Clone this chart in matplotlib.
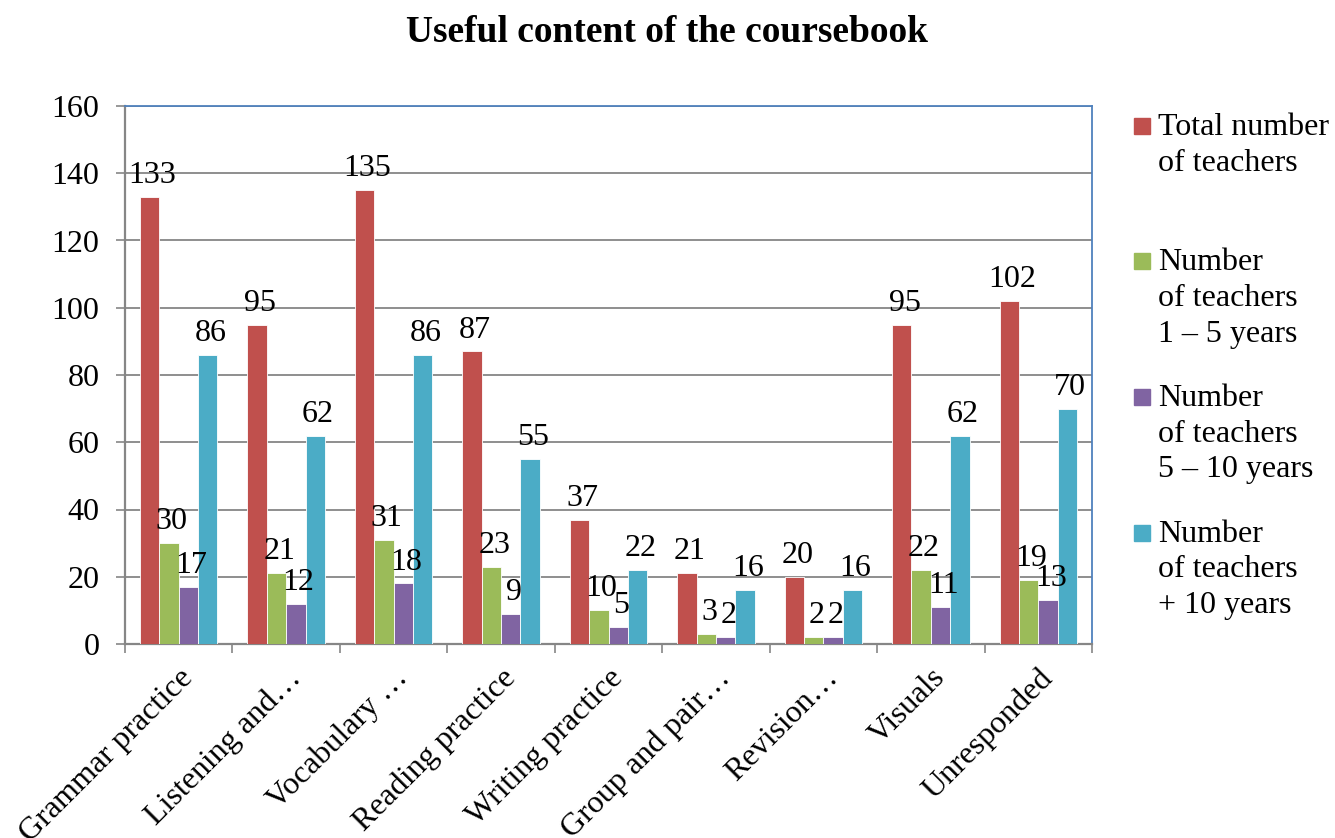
import numpy as np
import matplotlib
matplotlib.use("Agg")
import matplotlib.pyplot as plt
from matplotlib.patches import Rectangle

plt.rcParams['font.family'] = ['Liberation Serif', 'DejaVu Serif']

categories = ["Grammar practice", "Listening and…", "Vocabulary …", "Reading practice",
              "Writing practice", "Group and pair…", "Revision…", "Visuals", "Unresponded"]
total = [133, 95, 135, 87, 37, 21, 20, 95, 102]
years_1_5 = [30, 21, 31, 23, 10, 3, 2, 22, 19]
years_5_10 = [17, 12, 18, 9, 5, 2, 2, 11, 13]
years_10 = [86, 62, 86, 55, 22, 16, 16, 62, 70]
series_names = ["Total number\nof teachers", "Number\nof teachers\n1 – 5 years",
                "Number\nof teachers\n5 – 10 years", "Number\nof teachers\n+ 10 years"]
colors = ["#C0504D", "#9BBB59", "#8064A2", "#4BACC6"]

W, H = 1335, 838
fs = 23

fig = plt.figure(figsize=(W / 100, H / 100), dpi=100)
ax = fig.add_axes([125 / W, 1 - 644 / H, (1092 - 125) / W, (644 - 106) / H])

x = np.arange(len(categories))
bw = 0.18
series = [total, years_1_5, years_5_10, years_10]
for i, (vals, col) in enumerate(zip(series, colors)):
    pos = x + (i - 1.5) * bw
    bars = ax.bar(pos, vals, bw, color=col, edgecolor="white", linewidth=0.6, zorder=3)
    for b, v in zip(bars, vals):
        ax.annotate(str(v), (b.get_x() + b.get_width() / 2, v), xytext=(2, 5),
                    textcoords="offset points", ha="center", va="bottom",
                    fontsize=fs, zorder=4)

ax.set_xlim(-0.5, len(categories) - 0.5)
ax.set_ylim(0, 160)
ax.set_yticks(range(0, 161, 20))
ax.tick_params(axis="y", labelsize=fs, length=6.5, width=1.2, color="#868686", pad=12)
ax.yaxis.grid(True, color="#868686", linewidth=1.3, zorder=0)

ax.set_xticks(x)
ax.set_xticklabels(categories, rotation=45, ha="right", va="top",
                   rotation_mode="anchor", fontsize=fs)
ax.tick_params(axis="x", length=0, pad=14)
ax.set_xticks(np.arange(-0.5, len(categories), 1), minor=True)
ax.tick_params(axis="x", which="minor", length=6.5, width=1.2, color="#868686")

for s in ["left", "bottom"]:
    ax.spines[s].set_color("#868686")
    ax.spines[s].set_linewidth(1.6)
for s in ["top", "right"]:
    ax.spines[s].set_color("#4F81BD")
    ax.spines[s].set_linewidth(1.3)

fig.text(0.5, 1 - 33 / H, "Useful content of the coursebook", ha="center", va="center",
         fontsize=27, fontweight="bold")

# legend drawn by hand so the squares sit on the first line, like Excel does
for i, (name, col) in enumerate(zip(series_names, colors)):
    base = 136 + 135.5 * i
    fig.patches.append(Rectangle((1134 / W, 1 - (base - 2) / H), 16 / W, 16 / H,
                                 transform=fig.transFigure, color=col))
    fig.text(1158 / W, 1 - (base - 23) / H, name, ha="left", va="top",
             fontsize=fs, linespacing=1.3)

fig.savefig("out.png", dpi=100)
